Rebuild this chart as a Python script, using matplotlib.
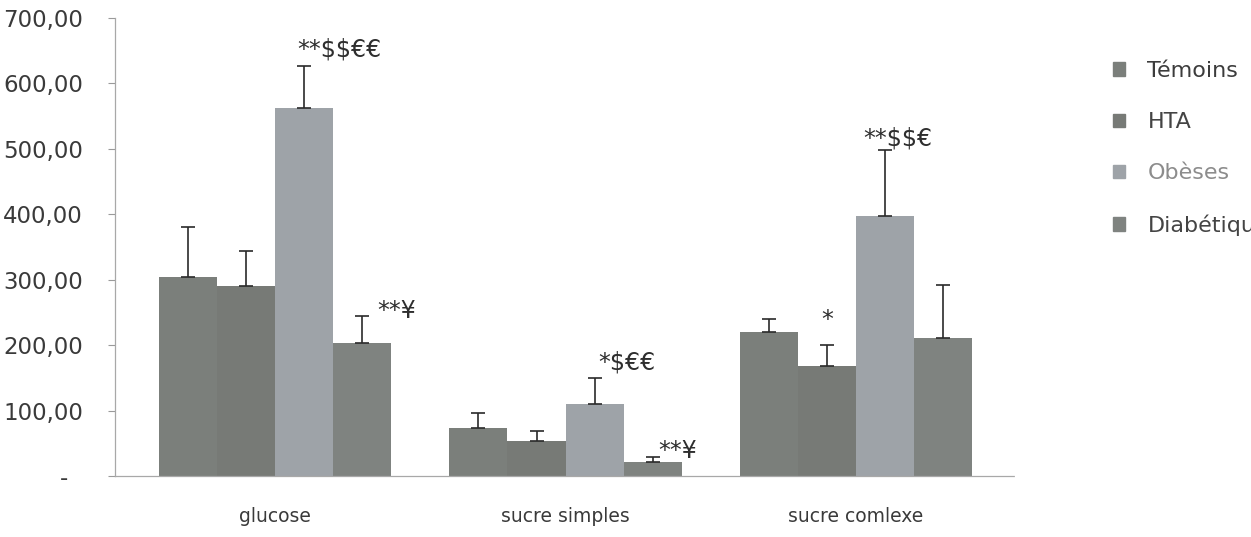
import matplotlib
matplotlib.use("Agg")
import matplotlib.pyplot as plt
from matplotlib.ticker import FuncFormatter
import numpy as np

plt.rcParams['font.family'] = ['DejaVu Sans']
plt.rcParams['text.parse_math'] = False

categories = ["glucose", "sucre simples", "sucre comlexe"]
groups = ["Témoins", "HTA", "Obèses", "Diabétiques"]

temoins = [304, 73, 220]
hta = [290, 53, 168]
obeses = [562, 110, 398]
diabetiques = [203, 21, 211]

temoins_err = [76, 23, 20]
hta_err = [54, 16, 32]
obeses_err = [64, 40, 101]
diabetiques_err = [41, 8, 81]

# significance marks: (category index, group index, text)
marks = [
    (0, 2, "**$$€€"),
    (0, 3, "**¥"),
    (1, 2, "*$€€"),
    (1, 3, "**¥"),
    (2, 1, "*"),
    (2, 2, "**$$€"),
]

yticks = [0, 100, 200, 300, 400, 500, 600, 700]

values = [temoins, hta, obeses, diabetiques]
errors = [temoins_err, hta_err, obeses_err, diabetiques_err]
bar_colors = ["#7b7f7b", "#777a76", "#9ea3a8", "#7f8380"]
legend_text_colors = ["#3c3c3c", "#444444", "#8c8c8c", "#444444"]
# pixel offsets (dx, dy) of each mark's baseline from its error bar top
mark_layout = [(-7, 10, 'left'), (15, -2, 'left'), (4, 8, 'left'),
               (6, -1, 'left'), (0, 18, 'center'), (-22, 4, 'left')]

W, H = 1251, 537
PX = 72 / 100  # points per pixel
fig = plt.figure(figsize=(W / 100, H / 100), dpi=100)
ax = fig.add_axes([115 / W, 1 - 476 / H, 900 / W, (476 - 18) / H])

x = np.arange(len(categories))
width = 0.2
offsets = (np.arange(len(groups)) - 1.5) * width

for gi, g in enumerate(groups):
    ax.bar(x + offsets[gi], values[gi], width, color=bar_colors[gi],
           edgecolor='none', label=g, zorder=2)
    ax.errorbar(x + offsets[gi], values[gi],
                yerr=[np.zeros(len(categories)), errors[gi]],
                fmt='none', ecolor='#2a2a2a', elinewidth=1.2,
                capsize=4.8, capthick=1.2, zorder=3)

for (ci, gi, txt), (dx, dy, ha) in zip(marks, mark_layout):
    top = values[gi][ci] + errors[gi][ci]
    ax.annotate(txt, xy=(x[ci] + offsets[gi], top), xytext=(dx * PX, dy * PX),
                textcoords='offset points', ha=ha, va='baseline',
                fontsize=17, color='#2e2e2e')

ax.set_xlim(-0.551, 2.547)
ax.set_ylim(0, 700)
ax.set_yticks(yticks)


def fmt(v, pos):
    if v == 0:
        return "-  "
    return f"{v:.2f}".replace(".", ",")


ax.yaxis.set_major_formatter(FuncFormatter(fmt))
ax.set_xticks(x)
ax.set_xticklabels(categories)
ax.tick_params(axis='y', labelsize=16.5, colors='#9a9a9a', labelcolor='#3a3a3a',
               length=5, width=0.8, pad=18)
ax.tick_params(axis='x', labelsize=13.5, labelcolor='#3a3a3a', length=0, pad=22)

for side in ['top', 'right']:
    ax.spines[side].set_visible(False)
for side in ['left', 'bottom']:
    ax.spines[side].set_color('#a8a8a8')
    ax.spines[side].set_linewidth(0.9)
    ax.spines[side].set_linestyle((0, (3, 1)))

handles = [plt.Rectangle((0, 0), 1, 1, color=c) for c in bar_colors]
leg = fig.legend(handles, groups, loc='upper left',
                 bbox_to_anchor=(1093 / W, 1 - 41 / H), frameon=False,
                 fontsize=16, handlelength=0.55, handleheight=0.55,
                 handletextpad=1.0, labelspacing=1.4)
for t, c in zip(leg.get_texts(), legend_text_colors):
    t.set_color(c)

fig.savefig("out.png", dpi=100)
